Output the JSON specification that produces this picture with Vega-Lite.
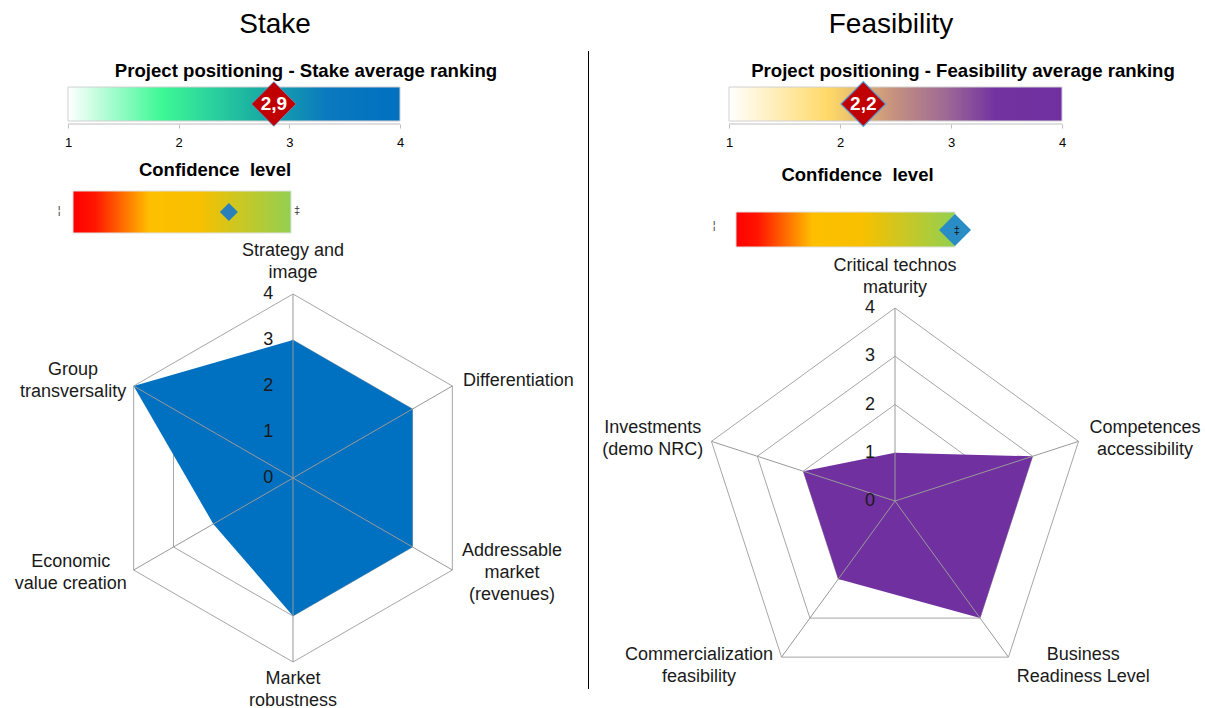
{
  "$schema": "https://vega.github.io/schema/vega-lite/v6.json",
  "background": "#ffffff",
  "padding": 0,
  "autosize": {"type": "pad"},
  "config": {"view": {"stroke": "transparent"}, "font": "Liberation Sans"},
  "datasets": {
    "headers": [
      {"chart": "Stake", "title": "Stake", "subtitle": "Project positioning - Stake average ranking"},
      {"chart": "Feasibility", "title": "Feasibility", "subtitle": "Project positioning - Feasibility average ranking"}
    ],
    "ranking": [
      {"chart": "Stake", "min": 1, "max": 4, "avg": 2.86, "label": "2,9"},
      {"chart": "Feasibility", "min": 1, "max": 4, "avg": 2.21, "label": "2,2"}
    ],
    "confidence": [
      {"chart": "Stake", "title": "Confidence\u00a0 level", "start": 0, "end": 1, "conf": 0.715, "lo": "¦", "hi": "‡"},
      {"chart": "Feasibility", "title": "Confidence\u00a0 level", "start": 0, "end": 1, "conf": 1.0, "lo": "¦", "hi": "‡"}
    ],
    "radar": [
      {"chart": "Stake", "k": 0, "criterion": "Strategy and\nimage", "value": 3},
      {"chart": "Stake", "k": 1, "criterion": "Differentiation", "value": 3},
      {"chart": "Stake", "k": 2, "criterion": "Addressable\nmarket\n(revenues)", "value": 3},
      {"chart": "Stake", "k": 3, "criterion": "Market\nrobustness", "value": 3},
      {"chart": "Stake", "k": 4, "criterion": "Economic\nvalue creation", "value": 2},
      {"chart": "Stake", "k": 5, "criterion": "Group\ntransversality", "value": 4},
      {"chart": "Feasibility", "k": 0, "criterion": "Critical technos\nmaturity", "value": 1},
      {"chart": "Feasibility", "k": 1, "criterion": "Competences\naccessibility", "value": 3},
      {"chart": "Feasibility", "k": 2, "criterion": "Business\nReadiness Level", "value": 3},
      {"chart": "Feasibility", "k": 3, "criterion": "Commercialization\nfeasibility", "value": 2},
      {"chart": "Feasibility", "k": 4, "criterion": "Investments\n(demo NRC)", "value": 2}
    ],
    "grid": [
      {"chart": "Stake", "level": 1, "k": [0, 1, 2, 3, 4, 5]},
      {"chart": "Stake", "level": 2, "k": [0, 1, 2, 3, 4, 5]},
      {"chart": "Stake", "level": 3, "k": [0, 1, 2, 3, 4, 5]},
      {"chart": "Stake", "level": 4, "k": [0, 1, 2, 3, 4, 5]},
      {"chart": "Feasibility", "level": 1, "k": [0, 1, 2, 3, 4]},
      {"chart": "Feasibility", "level": 2, "k": [0, 1, 2, 3, 4]},
      {"chart": "Feasibility", "level": 3, "k": [0, 1, 2, 3, 4]},
      {"chart": "Feasibility", "level": 4, "k": [0, 1, 2, 3, 4]}
    ],
    "levels": [{"level": 0}, {"level": 1}, {"level": 2}, {"level": 3}, {"level": 4}]
  },
  "spacing": 0,
  "hconcat": [
    {
      "spacing": 0,
      "bounds": "flush",
      "vconcat": [
        {
          "width": 585, "height": 86,
          "data": {"name": "headers"},
          "transform": [{"filter": "datum.chart === 'Stake'"}],
          "layer": [
            {"mark": {"type": "text", "fontSize": 28, "color": "#000000", "dx": -18.5, "dy": -19}, "encoding": {"text": {"field": "title", "type": "nominal"}}},
            {"mark": {"type": "text", "fontSize": 18.6, "fontWeight": "bold", "color": "#000000", "dx": 12.5, "dy": 27}, "encoding": {"text": {"field": "subtitle", "type": "nominal"}}}
          ]
        },
        {
          "width": 585, "height": 37,
          "data": {"name": "ranking"},
          "transform": [{"filter": "datum.chart === 'Stake'"}],
          "layer": [
            {
              "mark": {"type": "rect", "fill": {"gradient": "linear", "x1": 0, "x2": 1, "y1": 0, "y2": 0, "stops": [{"offset": 0, "color": "#ffffff"}, {"offset": 0.28, "color": "#3ef996"}, {"offset": 0.55, "color": "#1cb3a2"}, {"offset": 0.78, "color": "#0a79bf"}, {"offset": 1, "color": "#0070c0"}]}, "stroke": "#d0d0d0", "strokeWidth": 1},
              "encoding": {
                "x": {"field": "min", "type": "quantitative", "scale": {"domain": [0.39458, 5.68072], "nice": false, "zero": false}, "axis": {"values": [1, 2, 3, 4], "domain": false, "grid": false, "ticks": true, "tickSize": 4, "tickColor": "#bfbfbf", "labelFontSize": 13, "labelColor": "#000000", "labelPadding": 8, "title": null}},
                "x2": {"field": "max"},
                "y": {"datum": 3, "type": "quantitative", "scale": {"domain": [0, 37], "nice": false, "zero": false}, "axis": null},
                "y2": {"datum": 37}
              }
            },
            {
              "mark": {"type": "rule", "color": "#bfbfbf", "strokeWidth": 1},
              "encoding": {
                "x": {"field": "min", "type": "quantitative", "scale": {"domain": [0.39458, 5.68072], "nice": false, "zero": false}, "axis": {"values": [1, 2, 3, 4], "domain": false, "grid": false, "ticks": true, "tickSize": 4, "tickColor": "#bfbfbf", "labelFontSize": 13, "labelColor": "#000000", "labelPadding": 8, "title": null}},
                "x2": {"field": "max"},
                "y": {"datum": 0, "type": "quantitative", "axis": null}
              }
            },
            {
              "mark": {"type": "point", "shape": "diamond", "filled": true, "size": 2000, "fill": "#c00000", "stroke": "#5b9bd5", "strokeWidth": 0.8, "opacity": 1},
              "encoding": {
                "x": {"field": "avg", "type": "quantitative", "scale": {"domain": [0.39458, 5.68072], "nice": false, "zero": false}, "axis": {"values": [1, 2, 3, 4], "domain": false, "grid": false, "ticks": true, "tickSize": 4, "tickColor": "#bfbfbf", "labelFontSize": 13, "labelColor": "#000000", "labelPadding": 8, "title": null}},
                "y": {"datum": 20, "type": "quantitative", "axis": null}
              }
            },
            {
              "mark": {"type": "text", "color": "#ffffff", "fontWeight": "bold", "fontSize": 19},
              "encoding": {
                "x": {"field": "avg", "type": "quantitative", "scale": {"domain": [0.39458, 5.68072], "nice": false, "zero": false}, "axis": {"values": [1, 2, 3, 4], "domain": false, "grid": false, "ticks": true, "tickSize": 4, "tickColor": "#bfbfbf", "labelFontSize": 13, "labelColor": "#000000", "labelPadding": 8, "title": null}},
                "y": {"datum": 20, "type": "quantitative", "axis": null},
                "text": {"field": "label", "type": "nominal"}
              }
            }
          ]
        },
        {
          "width": 585, "height": 127,
          "data": {"name": "confidence"},
          "transform": [{"filter": "datum.chart === 'Stake'"}],
          "layer": [
            {
              "mark": {"type": "rect", "fill": {"gradient": "linear", "x1": 0, "x2": 1, "y1": 0, "y2": 0, "stops": [{"offset": 0, "color": "#ff0000"}, {"offset": 0.1, "color": "#ff1500"}, {"offset": 0.35, "color": "#ffbf00"}, {"offset": 0.58, "color": "#f7c000"}, {"offset": 1, "color": "#92d050"}]}, "stroke": "#e0e0e0", "strokeWidth": 1},
              "encoding": {
                "x": {"field": "start", "type": "quantitative", "scale": {"domain": [-0.33028, 2.35321], "nice": false, "zero": false}, "axis": null},
                "x2": {"field": "end"},
                "y": {"datum": 18, "type": "quantitative", "scale": {"domain": [0, 127], "nice": false, "zero": false}, "axis": null},
                "y2": {"datum": 60}
              }
            },
            {
              "mark": {"type": "point", "shape": "diamond", "filled": true, "size": 324, "fill": "#2a80b9", "opacity": 1},
              "encoding": {"x": {"field": "conf", "type": "quantitative", "axis": null}, "y": {"datum": 39, "type": "quantitative", "axis": null}}
            },
            {
              "mark": {"type": "text", "fontSize": 11, "color": "#333333"},
              "encoding": {"x": {"datum": -0.064, "type": "quantitative", "axis": null}, "y": {"datum": 40, "type": "quantitative", "axis": null}, "text": {"field": "lo", "type": "nominal"}}
            },
            {
              "mark": {"type": "text", "fontSize": 11, "color": "#333333"},
              "encoding": {"x": {"datum": 1.028, "type": "quantitative", "axis": null}, "y": {"datum": 40, "type": "quantitative", "axis": null}, "text": {"field": "hi", "type": "nominal"}}
            },
            {
              "mark": {"type": "text", "fontSize": 18.5, "fontWeight": "bold", "color": "#000000"},
              "encoding": {"x": {"datum": 0.6514, "type": "quantitative", "axis": null}, "y": {"datum": 80.7, "type": "quantitative", "axis": null}, "text": {"field": "title", "type": "nominal"}}
            }
          ]
        },
        {
          "width": 585, "height": 458,
          "encoding": {
            "x": {"field": "X", "type": "quantitative", "scale": {"domain": [-6.34783, 6.36957], "nice": false, "zero": false}, "axis": null},
            "y": {"field": "Y", "type": "quantitative", "scale": {"domain": [-5.02174, 4.93478], "nice": false, "zero": false}, "axis": null}
          },
          "layer": [
            {
              "data": {"name": "grid"},
              "transform": [{"filter": "datum.chart === 'Stake'"}, {"flatten": ["k"]}, {"calculate": "datum.level*sin(2*PI*datum.k/6)", "as": "X"}, {"calculate": "datum.level*cos(2*PI*datum.k/6)", "as": "Y"}],
              "mark": {"type": "line", "interpolate": "linear-closed", "color": "#a6a6a6", "strokeWidth": 1},
              "encoding": {"detail": {"field": "level", "type": "nominal"}, "order": {"field": "k", "type": "quantitative"}}
            },
            {
              "data": {"name": "radar"},
              "transform": [{"filter": "datum.chart === 'Stake'"}, {"calculate": "datum.value*sin(2*PI*datum.k/6)", "as": "X"}, {"calculate": "datum.value*cos(2*PI*datum.k/6)", "as": "Y"}],
              "mark": {"type": "line", "interpolate": "linear-closed", "filled": true, "color": "#0070c0"},
              "encoding": {"order": {"field": "k", "type": "quantitative"}}
            },
            {
              "data": {"name": "radar"},
              "transform": [{"filter": "datum.chart === 'Stake'"}, {"calculate": "0", "as": "X"}, {"calculate": "0", "as": "Y"}, {"calculate": "4*sin(2*PI*datum.k/6)", "as": "sx"}, {"calculate": "4*cos(2*PI*datum.k/6)", "as": "sy"}],
              "mark": {"type": "rule", "color": "#999999", "strokeWidth": 1},
              "encoding": {"x2": {"field": "sx"}, "y2": {"field": "sy"}}
            },
            {
              "data": {"name": "levels"},
              "transform": [{"calculate": "-0.54", "as": "X"}, {"calculate": "datum.level", "as": "Y"}],
              "mark": {"type": "text", "fontSize": 18, "color": "#1a1a1a"},
              "encoding": {"text": {"field": "level", "type": "quantitative", "format": "d"}}
            },
            {
              "data": {"name": "radar"},
              "transform": [{"filter": "datum.chart === 'Stake'"}, {"calculate": "4*sin(2*PI*datum.k/6) + [0, 1.436, 1.296, 0, -1.366, -1.316][datum.k]", "as": "X"}, {"calculate": "4*cos(2*PI*datum.k/6) + [0.70, 0.11, -0.07, -0.61, -0.07, 0.11][datum.k] + (length(split(datum.criterion, '\\n')) - 1)*0.2391", "as": "Y"}],
              "mark": {"type": "text", "fontSize": 18, "lineBreak": "\n", "lineHeight": 22, "color": "#1a1a1a"},
              "encoding": {"text": {"field": "criterion", "type": "nominal"}}
            }
          ]
        }
      ]
    },
    {
      "width": 1, "height": 708,
      "data": {"values": [{}]},
      "mark": {"type": "rule", "color": "#000000", "strokeWidth": 1},
      "encoding": {
        "x": {"datum": 0.5, "type": "quantitative", "scale": {"domain": [0, 1], "nice": false, "zero": false}, "axis": null},
        "y": {"datum": 50, "type": "quantitative", "scale": {"domain": [0, 708], "reverse": true, "nice": false, "zero": false}, "axis": null},
        "y2": {"datum": 688}
      }
    },
    {
      "spacing": 0,
      "bounds": "flush",
      "vconcat": [
        {
          "width": 620, "height": 86,
          "data": {"name": "headers"},
          "transform": [{"filter": "datum.chart === 'Feasibility'"}],
          "layer": [
            {"mark": {"type": "text", "fontSize": 28, "color": "#000000", "dx": -10, "dy": -19}, "encoding": {"text": {"field": "title", "type": "nominal"}}},
            {"mark": {"type": "text", "fontSize": 18.6, "fontWeight": "bold", "color": "#000000", "dx": 62, "dy": 27}, "encoding": {"text": {"field": "subtitle", "type": "nominal"}}}
          ]
        },
        {
          "width": 620, "height": 37,
          "data": {"name": "ranking"},
          "transform": [{"filter": "datum.chart === 'Feasibility'"}],
          "layer": [
            {
              "mark": {"type": "rect", "fill": {"gradient": "linear", "x1": 0, "x2": 1, "y1": 0, "y2": 0, "stops": [{"offset": 0, "color": "#ffffff"}, {"offset": 0.3, "color": "#ffd966"}, {"offset": 0.5, "color": "#c49080"}, {"offset": 0.65, "color": "#9e6a95"}, {"offset": 0.8, "color": "#7233a0"}, {"offset": 1, "color": "#7030a0"}]}, "stroke": "#d0d0d0", "strokeWidth": 1},
              "encoding": {
                "x": {"field": "min", "type": "quantitative", "scale": {"domain": [-0.24324, 5.34234], "nice": false, "zero": false}, "axis": {"values": [1, 2, 3, 4], "domain": false, "grid": false, "ticks": true, "tickSize": 4, "tickColor": "#bfbfbf", "labelFontSize": 13, "labelColor": "#000000", "labelPadding": 8, "title": null}},
                "x2": {"field": "max"},
                "y": {"datum": 3, "type": "quantitative", "scale": {"domain": [0, 37], "nice": false, "zero": false}, "axis": null},
                "y2": {"datum": 37}
              }
            },
            {
              "mark": {"type": "rule", "color": "#bfbfbf", "strokeWidth": 1},
              "encoding": {
                "x": {"field": "min", "type": "quantitative", "scale": {"domain": [-0.24324, 5.34234], "nice": false, "zero": false}, "axis": {"values": [1, 2, 3, 4], "domain": false, "grid": false, "ticks": true, "tickSize": 4, "tickColor": "#bfbfbf", "labelFontSize": 13, "labelColor": "#000000", "labelPadding": 8, "title": null}},
                "x2": {"field": "max"},
                "y": {"datum": 0, "type": "quantitative", "axis": null}
              }
            },
            {
              "mark": {"type": "point", "shape": "diamond", "filled": true, "size": 2000, "fill": "#c00000", "stroke": "#5b9bd5", "strokeWidth": 1.2, "opacity": 1},
              "encoding": {
                "x": {"field": "avg", "type": "quantitative", "scale": {"domain": [-0.24324, 5.34234], "nice": false, "zero": false}, "axis": {"values": [1, 2, 3, 4], "domain": false, "grid": false, "ticks": true, "tickSize": 4, "tickColor": "#bfbfbf", "labelFontSize": 13, "labelColor": "#000000", "labelPadding": 8, "title": null}},
                "y": {"datum": 20, "type": "quantitative", "axis": null}
              }
            },
            {
              "mark": {"type": "text", "color": "#ffffff", "fontWeight": "bold", "fontSize": 19},
              "encoding": {
                "x": {"field": "avg", "type": "quantitative", "scale": {"domain": [-0.24324, 5.34234], "nice": false, "zero": false}, "axis": {"values": [1, 2, 3, 4], "domain": false, "grid": false, "ticks": true, "tickSize": 4, "tickColor": "#bfbfbf", "labelFontSize": 13, "labelColor": "#000000", "labelPadding": 8, "title": null}},
                "y": {"datum": 20, "type": "quantitative", "axis": null},
                "text": {"field": "label", "type": "nominal"}
              }
            }
          ]
        },
        {
          "width": 620, "height": 127,
          "data": {"name": "confidence"},
          "transform": [{"filter": "datum.chart === 'Feasibility'"}],
          "layer": [
            {
              "mark": {"type": "rect", "fill": {"gradient": "linear", "x1": 0, "x2": 1, "y1": 0, "y2": 0, "stops": [{"offset": 0, "color": "#ff0000"}, {"offset": 0.1, "color": "#ff1500"}, {"offset": 0.35, "color": "#ffbf00"}, {"offset": 0.58, "color": "#f7c000"}, {"offset": 1, "color": "#92d050"}]}, "stroke": "#e0e0e0", "strokeWidth": 1},
              "encoding": {
                "x": {"field": "start", "type": "quantitative", "scale": {"domain": [-0.6621, 2.16895], "nice": false, "zero": false}, "axis": null},
                "x2": {"field": "end"},
                "y": {"datum": 4, "type": "quantitative", "scale": {"domain": [0, 127], "nice": false, "zero": false}, "axis": null},
                "y2": {"datum": 39}
              }
            },
            {
              "mark": {"type": "point", "shape": "diamond", "filled": true, "size": 1024, "fill": "#2a8cc4", "opacity": 1},
              "encoding": {"x": {"field": "conf", "type": "quantitative", "axis": null}, "y": {"datum": 21, "type": "quantitative", "axis": null}}
            },
            {
              "mark": {"type": "text", "fontSize": 11, "color": "#333333"},
              "encoding": {"x": {"datum": -0.1, "type": "quantitative", "axis": null}, "y": {"datum": 25, "type": "quantitative", "axis": null}, "text": {"field": "lo", "type": "nominal"}}
            },
            {
              "mark": {"type": "text", "fontSize": 11, "color": "#111111"},
              "encoding": {"x": {"datum": 1.008, "type": "quantitative", "axis": null}, "y": {"datum": 20, "type": "quantitative", "axis": null}, "text": {"field": "hi", "type": "nominal"}}
            },
            {
              "mark": {"type": "text", "fontSize": 18.5, "fontWeight": "bold", "color": "#000000"},
              "encoding": {"x": {"datum": 0.5548, "type": "quantitative", "axis": null}, "y": {"datum": 75.7, "type": "quantitative", "axis": null}, "text": {"field": "title", "type": "nominal"}}
            }
          ]
        },
        {
          "width": 620, "height": 458,
          "encoding": {
            "x": {"field": "X", "type": "quantitative", "scale": {"domain": [-6.30052, 6.54922], "nice": false, "zero": false}, "axis": null},
            "y": {"field": "Y", "type": "quantitative", "scale": {"domain": [-4.31088, 5.18135], "nice": false, "zero": false}, "axis": null}
          },
          "layer": [
            {
              "data": {"name": "grid"},
              "transform": [{"filter": "datum.chart === 'Feasibility'"}, {"flatten": ["k"]}, {"calculate": "datum.level*sin(2*PI*datum.k/5)", "as": "X"}, {"calculate": "datum.level*cos(2*PI*datum.k/5)", "as": "Y"}],
              "mark": {"type": "line", "interpolate": "linear-closed", "color": "#a6a6a6", "strokeWidth": 1},
              "encoding": {"detail": {"field": "level", "type": "nominal"}, "order": {"field": "k", "type": "quantitative"}}
            },
            {
              "data": {"name": "radar"},
              "transform": [{"filter": "datum.chart === 'Feasibility'"}, {"calculate": "datum.value*sin(2*PI*datum.k/5)", "as": "X"}, {"calculate": "datum.value*cos(2*PI*datum.k/5)", "as": "Y"}],
              "mark": {"type": "line", "interpolate": "linear-closed", "filled": true, "color": "#7030a0"},
              "encoding": {"order": {"field": "k", "type": "quantitative"}}
            },
            {
              "data": {"name": "radar"},
              "transform": [{"filter": "datum.chart === 'Feasibility'"}, {"calculate": "0", "as": "X"}, {"calculate": "0", "as": "Y"}, {"calculate": "4*sin(2*PI*datum.k/5)", "as": "sx"}, {"calculate": "4*cos(2*PI*datum.k/5)", "as": "sy"}],
              "mark": {"type": "rule", "color": "#999999", "strokeWidth": 1},
              "encoding": {"x2": {"field": "sx"}, "y2": {"field": "sy"}}
            },
            {
              "data": {"name": "levels"},
              "transform": [{"calculate": "-0.52", "as": "X"}, {"calculate": "datum.level", "as": "Y"}],
              "mark": {"type": "text", "fontSize": 18, "color": "#1a1a1a"},
              "encoding": {"text": {"field": "level", "type": "quantitative", "format": "d"}}
            },
            {
              "data": {"name": "radar"},
              "transform": [{"filter": "datum.chart === 'Feasibility'"}, {"calculate": "4*sin(2*PI*datum.k/5) + [0, 1.376, 1.549, -1.709, -1.216][datum.k]", "as": "X"}, {"calculate": "4*cos(2*PI*datum.k/5) + [0.64, 0.044, -0.184, -0.184, 0.044][datum.k] + (length(split(datum.criterion, '\\n')) - 1)*0.228", "as": "Y"}],
              "mark": {"type": "text", "fontSize": 18, "lineBreak": "\n", "lineHeight": 22, "color": "#1a1a1a"},
              "encoding": {"text": {"field": "criterion", "type": "nominal"}}
            }
          ]
        }
      ]
    }
  ]
}
